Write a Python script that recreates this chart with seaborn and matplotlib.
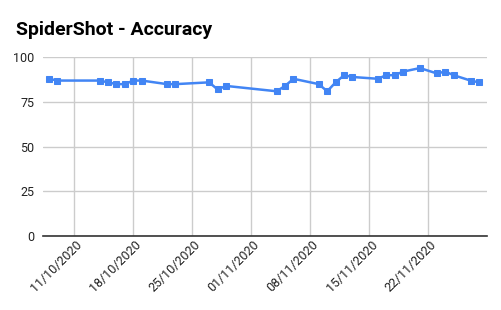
import matplotlib
matplotlib.use("Agg")
import matplotlib.pyplot as plt
import matplotlib.dates as mdates
import matplotlib.transforms as mtrans
import seaborn as sns
import pandas as pd

dates = ["2020-10-08", "2020-10-09", "2020-10-14", "2020-10-15", "2020-10-16",
         "2020-10-17", "2020-10-18", "2020-10-19", "2020-10-22", "2020-10-23",
         "2020-10-27", "2020-10-28", "2020-10-29", "2020-11-04", "2020-11-05",
         "2020-11-06", "2020-11-09", "2020-11-10", "2020-11-11", "2020-11-12",
         "2020-11-13", "2020-11-16", "2020-11-17", "2020-11-18", "2020-11-19",
         "2020-11-21", "2020-11-23", "2020-11-24", "2020-11-25", "2020-11-27",
         "2020-11-28"]
accuracy = [88, 87, 87, 86, 85, 85, 87, 87, 85, 85,
            86, 82, 84, 81, 84, 88, 85, 81, 86, 90,
            89, 88, 90, 90, 92, 94, 91, 92, 90, 87, 86]
tick_dates = ["2020-10-11", "2020-10-18", "2020-10-25", "2020-11-01",
              "2020-11-08", "2020-11-15", "2020-11-22"]
y_ticks = [0, 25, 50, 75, 100]
title = "SpiderShot - Accuracy"

df = pd.DataFrame({"date": pd.to_datetime(dates), "accuracy": accuracy})

sns.set_theme(style="white")
plt.rcParams['font.family'] = ['Roboto', 'DejaVu Sans']

fig = plt.figure(figsize=(5.02, 3.10), dpi=100)
ax = fig.add_axes([0.085, 0.239, 0.8845, 0.576])

blue = "#4285F4"
sns.lineplot(data=df, x="date", y="accuracy", ax=ax, color=blue, linewidth=1.8,
             marker="s", markersize=5, markeredgecolor=blue, markerfacecolor=blue)

ax.set_xlim(pd.Timestamp("2020-10-07 06:00"), pd.Timestamp("2020-11-28 22:00"))
ax.set_ylim(0, 100)
ax.set_yticks(y_ticks)
tks = pd.to_datetime(tick_dates)
ax.set_xticks(tks)
ax.set_xticklabels([t.strftime("%d/%m/%Y") for t in tks])

ax.grid(True, color="#cccccc", linewidth=1)
ax.set_axisbelow(True)
for s in ["top", "right", "left"]:
    ax.spines[s].set_visible(False)
ax.spines["bottom"].set_color("#333333")
ax.spines["bottom"].set_linewidth(1.2)
ax.set_xlabel("")
ax.set_ylabel("")
ax.tick_params(axis="both", length=0, labelsize=9, colors="#222222")
ax.tick_params(axis="y", pad=6)
ax.tick_params(axis="x", pad=5)

offset = mtrans.ScaledTranslation(6/100, 0, fig.dpi_scale_trans)
for lbl in ax.get_xticklabels():
    lbl.set_rotation(45)
    lbl.set_ha("right")
    lbl.set_va("center")
    lbl.set_rotation_mode("anchor")
    lbl.set_transform(lbl.get_transform() + offset)

fig.text(16/502, 1 - 35/310, title, fontsize=14, fontweight="bold",
         color="#000000", ha="left", va="baseline")

fig.savefig("out.png", dpi=100)
